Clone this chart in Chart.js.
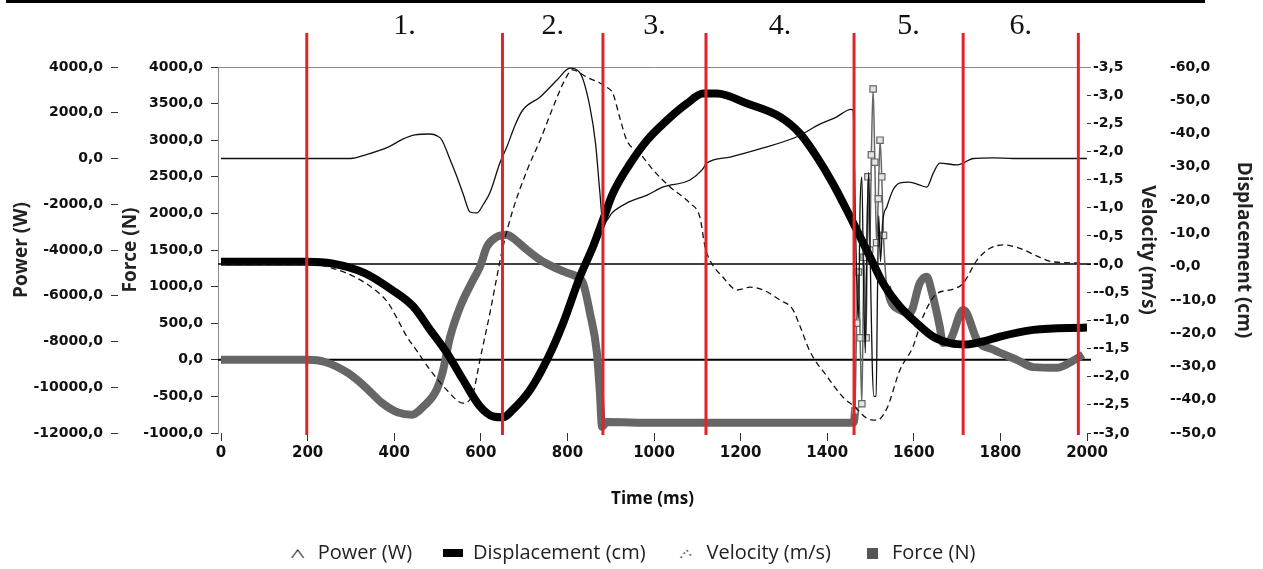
<!DOCTYPE html>
<html>
<head>
<meta charset="utf-8">
<script src="https://cdn.jsdelivr.net/npm/chart.js@4.4.0/dist/chart.umd.min.js"></script>
<style>
  html, body { margin: 0; padding: 0; background: #fff; }
  #wrap { position: relative; width: 1263px; height: 569px; }
  #wrap canvas { position: absolute; left: 0; top: 0; }
  #rule { position: absolute; left: 6px; top: 0; width: 1199px; height: 3px; background: #000; }
</style>
</head>
<body>
<div id="wrap">
  <canvas id="jump" width="1263" height="569"></canvas>
  <div id="rule"></div>
</div>
<script>
// values (time in ms)
const powerTime = [0, 150, 300, 332, 386, 420, 448, 483, 500, 510, 528, 545, 560, 575, 591, 606, 621, 644, 660, 680,
  697, 737, 776, 806, 829, 852, 865, 875, 882, 905, 937, 984, 1021, 1083, 1111, 1122, 1176, 1252, 1330, 1383,
  1420, 1455, 1460, 1463, 1466, 1469, 1472, 1476, 1480, 1484, 1488, 1492, 1496, 1500, 1504, 1508, 1513, 1516, 1519, 1523,
  1528, 1538, 1552, 1568, 1590, 1612, 1630, 1645, 1660, 1700, 1714, 1737, 1783, 1830, 1900, 2000];
const powerW = [0, 0, 0, 150, 500, 850, 1030, 1070, 980, 808, 0, -808, -1600, -2338, -2380, -2000, -1500, -200, 500, 1500,
  2120, 2690, 3430, 3950, 3740, 2250, 650, -1500, -2850, -2340, -1950, -1600, -1245, -940, -500, -200, 65, 460, 950, 1500,
  1800, 2150, 2100, -500, -3500, -6000, -7000, -2000, -800, -5500, -8500, -3000, -600, -5000, -9000, -10400, -10400, -6000, -2500, -4500,
  -2800, -2100, -1380, -1070, -1030, -1150, -1250, -640, -200, -280, -200, 0, 30, 0, 0, 0];

const dispTime = [0, 200, 256, 333, 395, 444, 483, 522, 559, 598, 628, 651, 674, 714, 753, 790, 829, 859, 882, 905,
  945, 984, 1030, 1076, 1113, 1145, 1215, 1291, 1337, 1376, 1413, 1453, 1476, 1506, 1529, 1568, 1607, 1644, 1684, 1722,
  1760, 1799, 1876, 2000];
const dispCm = [1.5, 1.5, 1, -2, -7, -12, -19, -26, -34, -42, -45, -45.3, -43, -37, -28, -17, -3, 6, 14, 22,
  31, 38, 44, 49, 52, 52, 49, 45, 40, 33, 25, 15, 9, 1, -5, -12, -17, -21, -23, -23.4,
  -22.5, -21, -19, -18.3];

const velTime = [0, 200, 256, 309, 356, 386, 409, 430, 444, 483, 522, 559, 582, 598, 621, 637, 651, 674, 707, 737,
  767, 794, 811, 845, 891, 905, 921, 937, 967, 998, 1037, 1083, 1106, 1118, 1129, 1159, 1192, 1222, 1252, 1291,
  1320, 1337, 1360, 1400, 1436, 1464, 1492, 1515, 1538, 1568, 1598, 1621, 1654, 1684, 1714, 1746, 1776, 1806, 1845, 1891,
  1921, 1984];
const velMs = [0, 0, -0.07, -0.23, -0.46, -0.69, -1.0, -1.3, -1.45, -1.88, -2.24, -2.47, -2.29, -1.7, -0.87, -0.23, 0.3, 0.96, 1.67, 2.2,
  2.79, 3.27, 3.45, 3.32, 3.14, 3.03, 2.6, 2.2, 1.97, 1.67, 1.37, 1.08, 0.83, 0.3, 0.07, -0.23, -0.46, -0.41, -0.46, -0.64,
  -0.8, -1.1, -1.55, -2.0, -2.36, -2.54, -2.74, -2.77, -2.56, -1.88, -1.47, -0.94, -0.52, -0.46, -0.34, 0.07, 0.28, 0.34, 0.28, 0.12,
  0.04, 0.02];

const forceTime = [0, 200, 240, 293, 333, 372, 409, 441, 467, 498, 513, 529, 552, 582, 598, 614, 637, 660, 674, 707,
  737, 767, 799, 822, 836, 852, 868, 875, 880, 891, 1000, 1200, 1460, 1464, 1468, 1472, 1476, 1480, 1485, 1490,
  1494, 1498, 1502, 1506, 1510, 1514, 1518, 1522, 1526, 1530, 1538, 1568, 1591, 1614, 1630, 1642, 1660, 1667, 1684, 1714,
  1722, 1746, 1783, 1838, 1876, 1930, 1960, 1991];
const forceN = [0, 0, -30, -180, -370, -590, -720, -750, -640, -410, -140, 310, 720, 1090, 1270, 1545, 1680, 1710, 1665, 1500,
  1365, 1270, 1190, 1135, 1050, 640, 100, -450, -915, -850, -860, -860, -860, -700, 500, 1200, 300, -600, 1400, 300,
  2500, 1500, 2800, 3700, 2700, 1600, 2200, 3000, 2500, 1700, 1000, 680, 640, 1050, 1135, 915, 450, 230, 270, 680,
  640, 270, 140, 0, -100, -110, -40, 70];

// phase boundaries (ms) and their numbers
const phaseBounds = [198, 650, 882, 1120, 1462, 1714, 1980];
const phaseLabels = ["1.", "2.", "3.", "4.", "5.", "6."];

// ticks
const timeTicks = [0, 200, 400, 600, 800, 1000, 1200, 1400, 1600, 1800, 2000];
const timeTickLabels = ["0", "200", "400", "600", "800", "1000", "1200", "1400", "1600", "1800", "2000"];
const powerTicks = [4000, 2000, 0, -2000, -4000, -6000, -8000, -10000, -12000];
const powerTickLabels = ["4000,0", "2000,0", "0,0", "-2000,0", "-4000,0", "-6000,0", "-8000,0", "-10000,0", "-12000,0"];
const forceTicks = [4000, 3500, 3000, 2500, 2000, 1500, 1000, 500, 0, -500, -1000];
const forceTickLabels = ["4000,0", "3500,0", "3000,0", "2500,0", "2000,0", "1500,0", "1000,0", "500,0", "0,0", "-500,0", "-1000,0"];
const velTicks = [3.5, 3, 2.5, 2, 1.5, 1, 0.5, 0, -0.5, -1, -1.5, -2, -2.5, -3];
const velTickLabels = ["-3,5", "-3,0", "-2,5", "-2,0", "-1,5", "-1,0", "-0,5", "-0,0", "--0,5", "--1,0", "--1,5", "--2,0", "--2,5", "--3,0"];
const dispTicks = [60, 50, 40, 30, 20, 10, 0, -10, -20, -30, -40, -50];
const dispTickLabels = ["-60,0", "-50,0", "-40,0", "-30,0", "-20,0", "-10,0", "-0,0", "--10,0", "--20,0", "--30,0", "--40,0", "--50,0"];

// landing window where the force trace is thin with square markers
const impactWindow = [1461, 1536];

const toPoints = (xs, ys) => xs.map((x, i) => ({ x, y: ys[i] }));
const inImpact = (t) => t >= impactWindow[0] && t < impactWindow[1];

// little legend glyphs
function glyph(draw) {
  const c = document.createElement("canvas");
  c.width = 20;
  c.height = 14;
  draw(c.getContext("2d"));
  return c;
}
const legendIcons = [
  glyph((g) => {
    g.strokeStyle = "#222"; g.lineWidth = 1.2;
    g.beginPath(); g.moveTo(4, 12); g.lineTo(10, 4); g.lineTo(16, 12); g.stroke();
  }),
  glyph((g) => { g.fillStyle = "#000"; g.fillRect(0, 3, 20, 8); }),
  glyph((g) => {
    g.strokeStyle = "#222"; g.lineWidth = 1.2; g.setLineDash([2, 3]);
    g.beginPath(); g.moveTo(4, 12); g.lineTo(10, 4); g.lineTo(16, 12); g.stroke();
  }),
  glyph((g) => { g.fillStyle = "#555"; g.fillRect(5, 2, 11, 11); }),
];

const tickFont = { family: "DejaVu Sans", weight: "bold", size: 14 };
const titleFont = { family: "Open Sans", weight: "bold", size: 19 };

function fixed(values) {
  return (scale) => { scale.ticks = values.map((v) => ({ value: v })); };
}

function yAxis(opts) {
  return {
    type: "linear",
    position: opts.side,
    weight: opts.weight,
    min: opts.min,
    max: opts.max,
    afterBuildTicks: fixed(opts.ticks),
    afterFit: (s) => { s.width = opts.width; },
    grid: { drawOnChartArea: false, drawTicks: opts.tickLength > 0, tickLength: opts.tickLength, tickColor: "#333" },
    border: opts.border || { display: false },
    ticks: {
      font: tickFont,
      color: "#111",
      padding: opts.padding,
      callback: (v) => opts.labels[opts.ticks.indexOf(v)],
    },
    title: {
      display: true,
      text: opts.title,
      font: titleFont,
      color: "#222",
      padding: { top: opts.titlePad, bottom: 0 },
    },
  };
}

const overlay = {
  id: "overlay",
  beforeDatasetsDraw(chart) {
    const { ctx, chartArea: a, scales } = chart;
    ctx.save();
    ctx.strokeStyle = "#8a8a8a";
    ctx.lineWidth = 1;
    ctx.beginPath();
    ctx.moveTo(a.left, a.top + 0.5);
    ctx.lineTo(a.right + 4, a.top + 0.5);
    ctx.stroke();
    // zero lines of velocity and force
    ctx.strokeStyle = "#000";
    ctx.lineWidth = 1.5;
    let y = scales.yVel.getPixelForValue(0);
    ctx.beginPath(); ctx.moveTo(a.left, y); ctx.lineTo(a.right + 4, y); ctx.stroke();
    ctx.lineWidth = 2;
    y = scales.yForce.getPixelForValue(0);
    ctx.beginPath(); ctx.moveTo(a.left, y); ctx.lineTo(a.right + 4, y); ctx.stroke();
    ctx.restore();
  },
  afterDatasetsDraw(chart) {
    const { ctx, chartArea: a, scales } = chart;
    const xs = phaseBounds.map((t) => scales.x.getPixelForValue(t));
    ctx.save();
    ctx.strokeStyle = "#e3232b";
    ctx.lineWidth = 3;
    xs.forEach((x) => {
      ctx.beginPath(); ctx.moveTo(x, a.top - 34); ctx.lineTo(x, a.bottom + 2); ctx.stroke();
    });
    ctx.fillStyle = "#111";
    ctx.font = "30px 'Liberation Serif'";
    ctx.textAlign = "center";
    ctx.textBaseline = "middle";
    phaseLabels.forEach((lab, i) => {
      ctx.fillText(lab, (xs[i] + xs[i + 1]) / 2, a.top - 41);
    });
    ctx.restore();
  },
};

new Chart(document.getElementById("jump"), {
  type: "line",
  data: {
    datasets: [
      {
        label: "Power (W)",
        data: toPoints(powerTime, powerW),
        yAxisID: "yPower",
        borderColor: "#111",
        borderWidth: 1.3,
        order: 0,
      },
      {
        label: "Displacement (cm)",
        data: toPoints(dispTime, dispCm),
        yAxisID: "yDisp",
        borderColor: "#000",
        borderWidth: 8,
        order: 2,
      },
      {
        label: "Velocity (m/s)",
        data: toPoints(velTime, velMs),
        yAxisID: "yVel",
        borderColor: "#111",
        borderWidth: 1.3,
        borderDash: [6, 4],
        order: 1,
      },
      {
        label: "Force (N)",
        data: toPoints(forceTime, forceN),
        yAxisID: "yForce",
        borderColor: "#666",
        borderWidth: 8,
        order: 3,
        pointStyle: "rect",
        pointRadius: (c) => (inImpact(forceTime[c.dataIndex]) ? 4.5 : 0),
        pointBackgroundColor: "#e4e4e4",
        pointBorderColor: "#666",
        pointBorderWidth: 1.2,
        segment: {
          borderWidth: (c) => (inImpact(c.p0.parsed.x) ? 1.5 : 8),
        },
      },
    ],
  },
  options: {
    responsive: false,
    animation: false,
    devicePixelRatio: 1,
    layout: { padding: { top: 67, left: 0, right: 0, bottom: -4 } },
    elements: {
      point: { radius: 0 },
      line: { cubicInterpolationMode: "monotone", borderCapStyle: "butt", borderJoinStyle: "round" },
    },
    scales: {
      x: {
        type: "linear",
        min: -7,
        max: 2000,
        afterBuildTicks: fixed(timeTicks),
        afterFit: (s) => { s.height = 79; },
        grid: { drawOnChartArea: false, tickLength: 8, tickColor: "#333" },
        border: { display: false },
        ticks: {
          font: { family: "DejaVu Sans", weight: "bold", size: 15 },
          color: "#111",
          padding: 3,
          maxRotation: 0,
          autoSkip: false,
          callback: (v) => timeTickLabels[timeTicks.indexOf(v)],
        },
        title: {
          display: true,
          text: "Time (ms)",
          font: { family: "Open Sans", weight: "bold", size: 17 },
          color: "#111",
          padding: { top: 0, bottom: 3 },
        },
      },
      yPower: yAxis({ side: "left", weight: 1, min: -12000, max: 4000, ticks: powerTicks, labels: powerTickLabels,
        width: 118, tickLength: 7, padding: 8, title: "Power (W)", titlePad: 10 }),
      yForce: yAxis({ side: "left", weight: 0, min: -1000, max: 4000, ticks: forceTicks, labels: forceTickLabels,
        width: 100, tickLength: 7, padding: 8, title: "Force (N)", titlePad: 1,
        border: { display: true, color: "#8a8a8a", width: 1 } }),
      yVel: yAxis({ side: "right", weight: 0, min: -3, max: 3.5, ticks: velTicks, labels: velTickLabels,
        width: 78, tickLength: 4, padding: 2, title: "Velocity (m/s)", titlePad: 6 }),
      yDisp: yAxis({ side: "right", weight: 1, min: -50, max: 60, ticks: dispTicks, labels: dispTickLabels,
        width: 98, tickLength: 0, padding: 5, title: "Displacement (cm)", titlePad: 8 }),
    },
    plugins: {
      tooltip: { enabled: false },
      legend: {
        position: "bottom",
        labels: {
          usePointStyle: true,
          pointStyleWidth: 20,
          padding: 31,
          color: "#222",
          font: { family: "Open Sans", size: 20 },
          generateLabels: (chart) => chart.data.datasets.map((ds, i) => ({
            text: ds.label,
            pointStyle: legendIcons[i],
            datasetIndex: i,
            hidden: false,
            lineWidth: 0,
            fillStyle: "transparent",
            strokeStyle: "transparent",
            fontColor: "#222",
          })),
        },
      },
    },
  },
  plugins: [overlay],
});
</script>
</body>
</html>
